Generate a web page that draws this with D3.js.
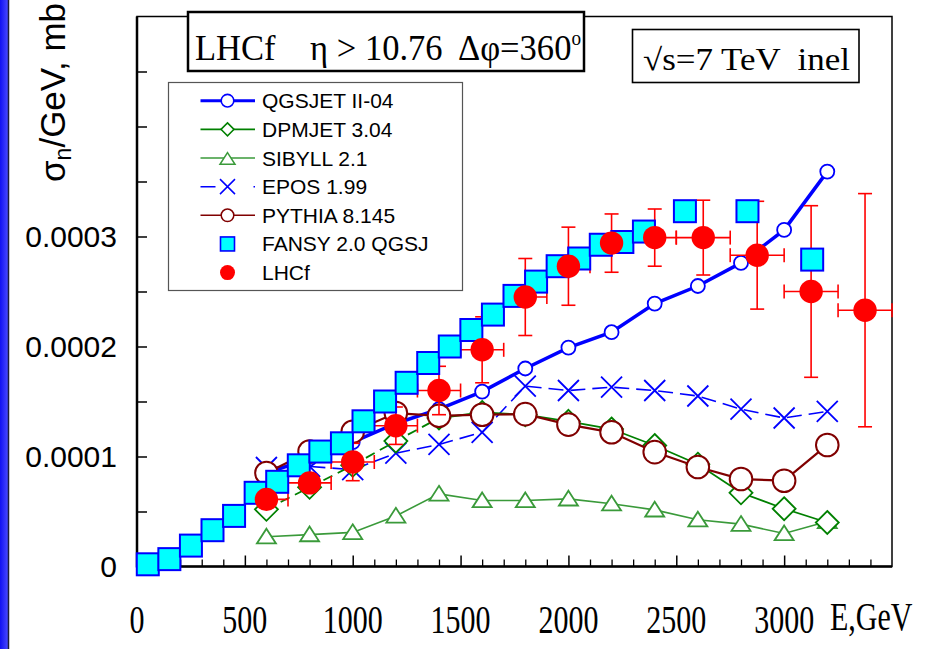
<!DOCTYPE html>
<html lang="en">
<head>
<meta charset="utf-8">
<title>LHCf neutron spectrum</title>
<script src="https://cdn.jsdelivr.net/npm/d3@7"></script>
<style>
body { margin: 0; background: #fff; }
svg { display: block; }
text { white-space: pre; }
</style>
</head>
<body>
<script>
var w = 933, h = 649;
var serif = "'Liberation Serif', 'Times New Roman', serif";
var sans = "'Liberation Sans', Arial, sans-serif";

// ---- data (values in units of 1e-4 mb/GeV) ----
var modelE = [600, 800, 1000, 1200, 1400, 1600, 1800, 2000, 2200, 2400, 2600, 2800, 3000, 3200];
var qgsjet = [0.85, 0.98, 1.13, 1.30, 1.43, 1.59, 1.80, 1.99, 2.13, 2.39, 2.55, 2.76, 3.06, 3.59];
var dpmjet = [0.52, 0.72, 0.92, 1.14, 1.35, 1.40, 1.38, 1.32, 1.25, 1.10, 0.93, 0.67, 0.525, 0.40];
var sibyll = [0.27, 0.29, 0.31, 0.46, 0.66, 0.60, 0.60, 0.615, 0.57, 0.515, 0.425, 0.385, 0.30, 0.41];
var epos   = [0.90, 0.91, 0.88, 1.03, 1.11, 1.22, 1.64, 1.60, 1.63, 1.60, 1.55, 1.43, 1.35, 1.41];
var pythia = [0.85, 1.045, 1.225, 1.395, 1.37, 1.38, 1.385, 1.29, 1.22, 1.04, 0.905, 0.795, 0.78, 1.105];
var dpmjetDashedTo = 1400; // DPMJET curve is dashed below this energy

var fansyE = [50, 150, 250, 350, 450, 550, 650, 750, 850, 950, 1050, 1150, 1250, 1350, 1450, 1550,
              1650, 1750, 1850, 1950, 2050, 2150, 2250, 2350, 2540, 2830, 3130];
var fansy  = [0.02, 0.067, 0.19, 0.33, 0.46, 0.67, 0.77, 0.92, 1.045, 1.12, 1.32, 1.50, 1.67, 1.85, 2.0, 2.15,
              2.29, 2.46, 2.59, 2.73, 2.80, 2.925, 2.95, 3.045, 3.23, 3.23, 2.79];

var lhcfE    = [600, 800, 1000, 1200, 1400, 1600, 1800, 2000, 2200, 2400, 2625, 2875, 3125, 3375];
var lhcf     = [0.61, 0.76, 0.95, 1.28, 1.60, 1.97, 2.45, 2.73, 2.94, 2.99, 2.99, 2.83, 2.50, 2.33];
var lhcfErrY = [0.06, 0.08, 0.17, 0.17, 0.22, 0.30, 0.35, 0.355, 0.265, 0.26, 0.34, 0.49, 0.78, 1.06];
var lhcfErrE = [100, 100, 100, 100, 100, 100, 100, 100, 100, 100, 125, 125, 125, 125];

var legendNames = ["QGSJET II-04", "DPMJET 3.04", "SIBYLL 2.1", "EPOS 1.99", "PYTHIA 8.145", "FANSY 2.0 QGSJ", "LHCf"];

var xTickVals = [0, 500, 1000, 1500, 2000, 2500, 3000];
var xTickLabels = ["0", "500", "1000", "1500", "2000", "2500", "3000"];
var yTickVals = [0, 1, 2, 3];
var yTickLabels = ["0", "0.0001", "0.0002", "0.0003"];
var yMinorVals = [0.5, 1.5, 2.5, 3.5, 4, 4.5];

// ---- scales ----
var x = d3.scaleLinear().domain([0, 3500]).range([137, 892]);
var y = d3.scaleLinear().domain([0, 5]).range([566.5, 16.5]);

var svg = d3.select("body").append("svg").attr("width", w).attr("height", h);
svg.append("rect").attr("width", w).attr("height", h).attr("fill", "#fff");

// blue strip on the left edge
var grad = svg.append("defs").append("linearGradient").attr("id", "strip");
grad.append("stop").attr("offset", "0").attr("stop-color", "#1010f0");
grad.append("stop").attr("offset", "1").attr("stop-color", "#4848ff");
svg.append("rect").attr("x", 0).attr("y", 0).attr("width", 8).attr("height", h).attr("fill", "url(#strip)");
svg.append("line").attr("x1", 8.5).attr("x2", 8.5).attr("y1", 0).attr("y2", h)
    .attr("stroke", "#1a1a3a").attr("stroke-width", 1.5);

// frame
var x0 = x.range()[0], x1 = x.range()[1], yb = y.range()[0], yt = y.range()[1];
svg.append("rect").attr("x", x0).attr("y", yt).attr("width", x1 - x0).attr("height", yb - yt)
    .attr("fill", "none").attr("stroke", "#000").attr("stroke-width", 1.5);
svg.append("line").attr("x1", x0).attr("x2", x0).attr("y1", yt).attr("y2", yb + 1)
    .attr("stroke", "#000").attr("stroke-width", 2.5);
svg.append("line").attr("x1", x0 - 1).attr("x2", x1).attr("y1", yb).attr("y2", yb)
    .attr("stroke", "#000").attr("stroke-width", 2.5);

// y axis (ticks point inward)
var yAxis = svg.append("g").attr("transform", "translate(" + x0 + ",0)")
    .call(d3.axisLeft(y).tickValues(yTickVals).tickSize(-10).tickPadding(20)
        .tickFormat(function(d, i) { return yTickLabels[i]; }));
yAxis.select(".domain").remove();
yAxis.selectAll("line").attr("stroke-width", 1.5);
yAxis.selectAll("text").attr("font-family", sans).attr("font-size", 30).attr("fill", "#000");
var yMinor = svg.append("g").attr("transform", "translate(" + x0 + ",0)")
    .call(d3.axisLeft(y).tickValues(yMinorVals).tickSize(-10).tickFormat(""));
yMinor.select(".domain").remove();
yMinor.selectAll("line").attr("stroke-width", 1.5);

// x axis
var xMajor = svg.append("g").attr("transform", "translate(0," + yb + ")")
    .call(d3.axisBottom(x).tickValues(xTickVals).tickSize(-11).tickFormat(""));
xMajor.select(".domain").remove();
xMajor.selectAll("line").attr("stroke-width", 1.5);
var xMinor = svg.append("g").attr("transform", "translate(0," + yb + ")")
    .call(d3.axisBottom(x).tickValues(d3.range(100, 3500, 100).filter(function(v) { return v % 500; }))
        .tickSize(-7).tickFormat(""));
xMinor.select(".domain").remove();
xMinor.selectAll("line").attr("stroke-width", 1.3);

svg.selectAll("text.xlab")
    .data(xTickVals)
    .enter()
    .append("text")
    .attr("class", "xlab")
    .attr("transform", function(d) { return "translate(" + x(d) + ",633) scale(1,1.35)"; })
    .attr("text-anchor", "middle")
    .attr("font-family", serif)
    .attr("font-size", 30)
    .text(function(d, i) { return xTickLabels[i]; });

svg.append("text")
    .attr("transform", "translate(830,630) scale(1,1.35)")
    .attr("font-family", serif).attr("font-size", 30)
    .text("E,GeV");

// y title
var yTitle = svg.append("text")
    .attr("transform", "translate(65,182) rotate(-90)")
    .attr("font-family", sans).attr("font-size", 35);
yTitle.append("tspan").text("σ");
yTitle.append("tspan").attr("font-size", 23).attr("dy", 6).text("n");
yTitle.append("tspan").attr("dy", -6).text("/GeV, mb");

// ---- series ----
function diamond(s) { return "M0," + (-s) + "L" + s + ",0L0," + s + "L" + (-s) + ",0Z"; }
function triangle(s) { return "M0," + (-s * 0.85) + "L" + s + "," + (s * 0.7) + "L" + (-s) + "," + (s * 0.7) + "Z"; }
function cross(s) { return "M" + (-s) + "," + (-s) + "L" + s + "," + s + "M" + (-s) + "," + s + "L" + s + "," + (-s); }

var line = d3.line()
    .x(function(d) { return x(d[0]); })
    .y(function(d) { return y(d[1]); });

function pairs(es, vs) { return es.map(function(e, i) { return [e, vs[i]]; }); }

function drawSeries(vals, color, width, dash, markerPath, markerWidth) {
    var pts = pairs(modelE, vals);
    svg.append("path").datum(pts).attr("d", line)
        .attr("fill", "none").attr("stroke", color).attr("stroke-width", width)
        .attr("stroke-dasharray", dash);
    svg.selectAll(null).data(pts).enter().append("path")
        .attr("transform", function(d) { return "translate(" + x(d[0]) + "," + y(d[1]) + ")"; })
        .attr("d", markerPath)
        .attr("fill", "#fff").attr("stroke", color).attr("stroke-width", markerWidth);
}

// SIBYLL
drawSeries(sibyll, "#3a9a3a", 1.6, null, triangle(9.5), 1.8);

// EPOS
var eposPts = pairs(modelE, epos);
svg.append("path").datum(eposPts).attr("d", line)
    .attr("fill", "none").attr("stroke", "#0000ff").attr("stroke-width", 1.6)
    .attr("stroke-dasharray", "15,7");
svg.selectAll(null).data(eposPts).enter().append("path")
    .attr("transform", function(d) { return "translate(" + x(d[0]) + "," + y(d[1]) + ")"; })
    .attr("d", cross(10.5))
    .attr("fill", "none").attr("stroke", "#0000ff").attr("stroke-width", 1.8);

// QGSJET
var qPts = pairs(modelE, qgsjet);
svg.append("path").datum(qPts).attr("d", line)
    .attr("fill", "none").attr("stroke", "#0000ff").attr("stroke-width", 3.5);
svg.selectAll(null).data(qPts).enter().append("circle")
    .attr("cx", function(d) { return x(d[0]); })
    .attr("cy", function(d) { return y(d[1]); })
    .attr("r", 7).attr("fill", "#fff").attr("stroke", "#0000ff").attr("stroke-width", 1.8);

// DPMJET (dashed at low energy, solid above)
var dPts = pairs(modelE, dpmjet);
svg.append("path").datum(dPts.filter(function(d) { return d[0] <= dpmjetDashedTo; })).attr("d", line)
    .attr("fill", "none").attr("stroke", "#008000").attr("stroke-width", 1.8).attr("stroke-dasharray", "10,6");
svg.append("path").datum(dPts.filter(function(d) { return d[0] >= dpmjetDashedTo; })).attr("d", line)
    .attr("fill", "none").attr("stroke", "#008000").attr("stroke-width", 1.8);
svg.selectAll(null).data(dPts).enter().append("path")
    .attr("transform", function(d) { return "translate(" + x(d[0]) + "," + y(d[1]) + ")"; })
    .attr("d", diamond(11.5))
    .attr("fill", "#fff").attr("stroke", "#008000").attr("stroke-width", 1.8);

// PYTHIA
var pPts = pairs(modelE, pythia);
svg.append("path").datum(pPts).attr("d", line)
    .attr("fill", "none").attr("stroke", "#800000").attr("stroke-width", 2.2);
svg.selectAll(null).data(pPts).enter().append("circle")
    .attr("cx", function(d) { return x(d[0]); })
    .attr("cy", function(d) { return y(d[1]); })
    .attr("r", 11.3).attr("fill", "#fff").attr("stroke", "#800000").attr("stroke-width", 2);

// LHCf error bars
var lhcfPts = lhcfE.map(function(e, i) { return { e: e, v: lhcf[i], dy: lhcfErrY[i], de: lhcfErrE[i] }; });
var eb = svg.append("g").attr("stroke", "#ff0000").attr("stroke-width", 1.6).attr("fill", "none");
lhcfPts.forEach(function(p) {
    var cx = x(p.e), cy = y(p.v), yl = y(p.v - p.dy), yh = y(p.v + p.dy), xl = x(p.e - p.de), xh = x(p.e + p.de);
    eb.append("line").attr("x1", cx).attr("x2", cx).attr("y1", yl).attr("y2", yh);
    eb.append("line").attr("x1", cx - 7).attr("x2", cx + 7).attr("y1", yl).attr("y2", yl);
    eb.append("line").attr("x1", cx - 7).attr("x2", cx + 7).attr("y1", yh).attr("y2", yh);
    eb.append("line").attr("x1", xl).attr("x2", xh).attr("y1", cy).attr("y2", cy);
    eb.append("line").attr("x1", xl).attr("x2", xl).attr("y1", cy - 7).attr("y2", cy + 7);
    eb.append("line").attr("x1", xh).attr("x2", xh).attr("y1", cy - 7).attr("y2", cy + 7);
});

// FANSY squares
svg.selectAll("rect.fansy")
    .data(pairs(fansyE, fansy))
    .enter()
    .append("rect")
    .attr("class", "fansy")
    .attr("x", function(d) { return x(d[0]) - 11; })
    .attr("y", function(d) { return y(d[1]) - 11; })
    .attr("width", 22).attr("height", 22)
    .attr("fill", "#00ffff").attr("stroke", "#0000ff").attr("stroke-width", 2);

// LHCf points
svg.selectAll("circle.lhcf")
    .data(lhcfPts)
    .enter()
    .append("circle")
    .attr("class", "lhcf")
    .attr("cx", function(d) { return x(d.e); })
    .attr("cy", function(d) { return y(d.v); })
    .attr("r", 11.7)
    .attr("fill", "#ff0000");

// ---- header boxes ----
svg.append("rect").attr("x", 188).attr("y", 12).attr("width", 396).attr("height", 59)
    .attr("fill", "#fff").attr("stroke", "#000").attr("stroke-width", 2.5);
var h1 = svg.append("text").attr("x", 195).attr("y", 60)
    .attr("font-family", serif).attr("font-size", 36)
    .attr("textLength", 386).attr("lengthAdjust", "spacingAndGlyphs");
h1.append("tspan").text("LHCf    η > 10.76  Δφ=360");
h1.append("tspan").attr("font-size", 20).attr("dy", -15).text("o");

svg.append("rect").attr("x", 632.5).attr("y", 29.5).attr("width", 226.5).attr("height", 53)
    .attr("fill", "#fff").attr("stroke", "#000").attr("stroke-width", 1.6);
svg.append("text").attr("x", 643).attr("y", 69.5)
    .attr("font-family", serif).attr("font-size", 31)
    .attr("textLength", 207).attr("lengthAdjust", "spacingAndGlyphs")
    .text("√s=7 TeV  inel");

// ---- legend ----
svg.append("rect").attr("x", 168.5).attr("y", 82.5).attr("width", 294).attr("height", 208)
    .attr("fill", "#fff").attr("stroke", "#555").attr("stroke-width", 1.2);
var legRow = function(i) { return 100.7 + i * 28.65; };
var lx1 = 200.5, lx2 = 255, lm = 227.5;
var legStyles = [
    { color: "#0000ff", width: 3, dash: null },
    { color: "#008000", width: 1.6, dash: null },
    { color: "#3a9a3a", width: 1.6, dash: null },
    { color: "#0000ff", width: 1.5, dash: "15,38" },
    { color: "#800000", width: 1.6, dash: null }
];
legStyles.forEach(function(s, i) {
    svg.append("line").attr("x1", lx1).attr("x2", lx2).attr("y1", legRow(i)).attr("y2", legRow(i))
        .attr("stroke", s.color).attr("stroke-width", s.width).attr("stroke-dasharray", s.dash);
});
svg.append("circle").attr("cx", lm).attr("cy", legRow(0)).attr("r", 6.3)
    .attr("fill", "#fff").attr("stroke", "#0000ff").attr("stroke-width", 1.6);
svg.append("path").attr("transform", "translate(" + lm + "," + legRow(1) + ")").attr("d", diamond(6.5))
    .attr("fill", "#fff").attr("stroke", "#008000").attr("stroke-width", 1.5);
svg.append("path").attr("transform", "translate(" + lm + "," + (legRow(2) + 1) + ")").attr("d", triangle(7.5))
    .attr("fill", "#fff").attr("stroke", "#3a9a3a").attr("stroke-width", 1.5);
svg.append("path").attr("transform", "translate(" + lm + "," + legRow(3) + ")").attr("d", cross(7.5))
    .attr("fill", "none").attr("stroke", "#0000ff").attr("stroke-width", 1.5);
svg.append("circle").attr("cx", lm).attr("cy", legRow(4)).attr("r", 6.3)
    .attr("fill", "#fff").attr("stroke", "#800000").attr("stroke-width", 1.5);
svg.append("rect").attr("x", lm - 7).attr("y", legRow(5) - 7).attr("width", 14).attr("height", 14)
    .attr("fill", "#00ffff").attr("stroke", "#0000ff").attr("stroke-width", 1.6);
svg.append("circle").attr("cx", lm).attr("cy", legRow(6)).attr("r", 7.5).attr("fill", "#ff0000");

svg.selectAll("text.leg")
    .data(legendNames)
    .enter()
    .append("text")
    .attr("class", "leg")
    .attr("x", 262)
    .attr("y", function(d, i) { return legRow(i) + 7.5; })
    .attr("font-family", sans)
    .attr("font-size", 21)
    .text(function(d) { return d; });
</script>
</body>
</html>
